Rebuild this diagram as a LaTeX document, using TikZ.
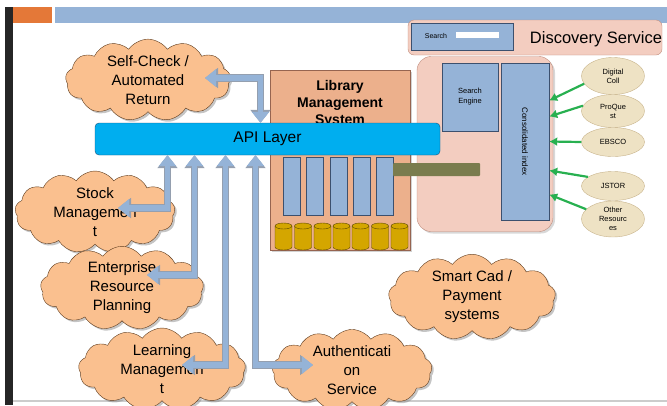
\documentclass[tikz,border=0pt]{standalone}
\usepackage{fontspec}
\setmainfont{Liberation Sans}
\usepackage{xcolor}
\usetikzlibrary{shapes.symbols,shapes.geometric,chains,positioning,arrows.meta,shadows}

\definecolor{cloudfill}{RGB}{250,192,143}
\definecolor{cloudline}{RGB}{95,60,30}
\definecolor{apiblue}{RGB}{0,174,239}
\definecolor{apiline}{RGB}{30,80,120}
\definecolor{lmsfill}{RGB}{236,176,140}
\definecolor{lmsline}{RGB}{150,100,80}
\definecolor{steel}{RGB}{149,179,215}
\definecolor{steelline}{RGB}{60,80,110}
\definecolor{gold}{RGB}{212,166,0}
\definecolor{goldline}{RGB}{90,70,0}
\definecolor{discpink}{RGB}{243,205,192}
\definecolor{discline}{RGB}{190,140,125}
\definecolor{beige}{RGB}{238,226,196}
\definecolor{beigeline}{RGB}{200,180,140}
\definecolor{feedgreen}{RGB}{40,176,80}
\definecolor{olive}{RGB}{122,124,78}
\definecolor{slideorange}{RGB}{228,120,56}

\begin{document}
\begin{tikzpicture}[
x=1pt,y=-1pt,
cloudy/.style={
  draw=cloudline,
  cloud,
  cloud puffs=13,
  cloud puff arc=110,
  cloud ignores aspect,
  fill=cloudfill,
  inner sep=0pt,
  align=center,
  drop shadow={fill=black!45,shadow xshift=2pt,shadow yshift=-2pt},
  font=\fontsize{15}{19}\selectfont
},
blockarr/.style={
  preaction={
    draw=steelline!55,
    line width=7.6pt,
    {Triangle[width=19.5pt,length=13pt]}-{Triangle[width=19.5pt,length=13pt]}
  },
  draw=steel,
  line width=5.6pt,
  {Triangle[width=17pt,length=11pt]}-{Triangle[width=17pt,length=11pt]}
},
bar/.style={
  draw=steelline,
  fill=steel,
  minimum width=17pt,
  minimum height=58pt,
  inner sep=0pt,
  on chain
},
drum/.style={
  draw=goldline,
  fill=gold
},
source/.style={
  draw=beigeline,
  fill=beige,
  ellipse,
  minimum width=63pt,
  inner sep=0pt,
  align=center,
  font=\fontsize{7.5}{9}\selectfont
},
feed/.style={
  draw=feedgreen,
  line width=2.2pt,
  -{Latex[length=8pt,width=9pt]}
},
node distance=6pt
]
\useasboundingbox (0,0) rectangle (667,405);

% slide frame
\fill[black!85] (5,7) rectangle (13,405);
\fill[slideorange] (13,7) rectangle (52,23);
\fill[steel] (55,7) rectangle (667,23);
\draw[black!20,line width=1.5pt] (13,401) -- (667,401);

% discovery service
\node[draw=discline,fill=discpink,rounded corners=6pt,minimum width=254pt,minimum height=35pt] 
  (disc) at (535,37.5) {};
\node[draw=steelline,fill=steel,minimum width=102pt,minimum height=27pt] 
  (search) at (462,37) {};
\node[font=\fontsize{7}{8}\selectfont,inner sep=0pt] 
  (searchlbl) at (436,36) {Search};
\node[fill=white,minimum width=43pt,minimum height=6pt,inner sep=0pt] 
  (searchfld) at (477,34.5) {};
\node[font=\fontsize{16.5}{19}\selectfont] 
  (disclbl) at (596,39) {Discovery Service};
\node[draw=discline,fill=discpink,rounded corners=14pt,minimum width=136pt,minimum height=175pt,
  drop shadow={fill=black!30,shadow xshift=2pt,shadow yshift=-2pt}] 
  (index) at (485,144) {};
\node[draw=steelline,fill=steel,minimum width=56pt,minimum height=68pt,align=center,
  font=\fontsize{7.5}{10}\selectfont] 
  (engine) at (470,97) {Search\\Engine};
\node[draw=steelline,fill=steel,minimum width=48pt,minimum height=157pt] 
  (cons) at (525,141.5) {};
\node[rotate=-90,font=\fontsize{8}{9}\selectfont] 
  (conslbl) at (525,141.5) {Consolidated index};

% content sources
\node[source,minimum height=37pt] (dig) at (613,76) {Digital\\Coll};
\node[source,minimum height=33pt] (proq) at (613,111) {ProQue\\st};
\node[source,minimum height=29pt] (ebsco) at (613,142) {EBSCO};
\node[source,minimum height=29pt] (jstor) at (613,186) {JSTOR};
\node[source,minimum height=36pt] (other) at (613,219) {Other\\Resourc\\es};

\draw[feed] (dig.195) -- ([yshift=41pt]cons.east);
\draw[feed] (proq.170) -- ([yshift=25pt]cons.east);
\draw[feed] (ebsco.west) -- ([yshift=0pt]cons.east);
\draw[feed] (jstor.160) -- ([yshift=-29pt]cons.east);
\draw[feed] (other.160) -- ([yshift=-53pt]cons.east);

% library management system
\node[draw=lmsline,fill=lmsfill,minimum width=140pt,minimum height=180pt,
  drop shadow={fill=black!35,shadow xshift=2pt,shadow yshift=-2pt}] 
  (lms) at (340,160) {};
\node[align=center,font=\bfseries\fontsize{14}{17}\selectfont] 
  (lmslbl) at (340,104) {Library\\Management\\System};
\begin{scope}[start chain=bars going right]
\node[bar] (b1) at (291.5,186) {};
\node[bar] (b2) {};
\node[bar] (b3) {};
\node[bar] (b4) {};
\node[bar] (b5) {};
\end{scope}
% storage drums
\foreach \cx in {283.5,303,322.5,341.5,360.5,380,399.5} {
  \filldraw[drum] (\cx-8.5,226) -- (\cx-8.5,247)
    arc[start angle=180,end angle=360,x radius=8.5pt,y radius=3pt]
    -- (\cx+8.5,226)
    arc[start angle=0,end angle=180,x radius=8.5pt,y radius=3pt] -- cycle;
  \draw[goldline] (\cx-8.5,226) arc[start angle=180,end angle=360,x radius=8.5pt,y radius=3pt];
}
\node[fill=olive,rounded corners=1pt,minimum width=87pt,minimum height=13pt,inner sep=0pt] 
  (link) at (436.5,169.5) {};

% clouds
\node[cloudy,minimum width=165pt,minimum height=72pt] (selfcheck) at (148,80) 
  {Self-Check /\\Automated\\Return};
\node[cloudy,minimum width=160pt,minimum height=76pt] (stock) at (95,212) 
  {Stock\\Managemen\\t};
\node[cloudy,minimum width=163pt,minimum height=76pt] (erp) at (122,288) 
  {Enterprise\\Resource\\Planning};
\node[cloudy,minimum width=167pt,minimum height=72pt] (learn) at (162,369) 
  {Learning\\Managemen\\t};
\node[cloudy,minimum width=160pt,minimum height=72pt] (auth) at (352,370) 
  {Authenticati\\on\\Service};
\node[cloudy,minimum width=167pt,minimum height=74pt] (smart) at (472,297) 
  {Smart Cad /\\Payment\\systems};

% api layer
\node[draw=apiline,fill=apiblue,rounded corners=4pt,minimum width=345pt,minimum height=32pt,
  font=\fontsize{15.5}{18}\selectfont] 
  (api) at (267.5,139) {API Layer};

\coordinate (scin) at (205,78);
\coordinate (stin) at (118,208);
\coordinate (erpin) at (147,275);
\coordinate (lmin) at (182,365);
\coordinate (auin) at (313,365);
\draw[blockarr] (scin) -| ([xshift=-7pt]api.north);
\draw[blockarr] (stin) -| ([xshift=-100pt]api.south);
\draw[blockarr] (erpin) -| ([xshift=-73pt]api.south);
\draw[blockarr] (lmin) -| ([xshift=-42pt]api.south);
\draw[blockarr] (auin) -| ([xshift=-12pt]api.south);
\end{tikzpicture}
\end{document}
